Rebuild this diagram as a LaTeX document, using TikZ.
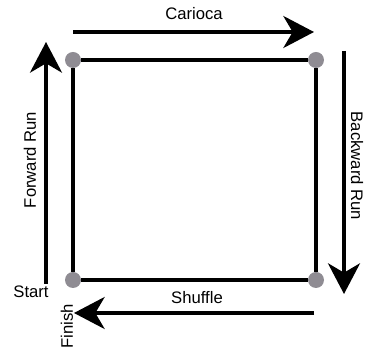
\documentclass[tikz,border=0pt]{standalone}
\usepackage{fontspec}
\setmainfont{Liberation Sans}
\usetikzlibrary{arrows.meta}

\begin{document}
\begin{tikzpicture}[x=0.75pt, y=-0.75pt,
    corner/.style={circle, fill={rgb,255:red,143;green,140;blue,147}, inner sep=0pt, minimum size=12pt},
    edge/.style={line width=2.6pt},
    arrow/.style={-{Stealth[length=23pt, width=24pt, inset=7pt]}, line width=2.6pt},
    lbl/.style={font=\fontsize{12.5}{14}\selectfont, inner sep=0pt}
]
\useasboundingbox (0,0) rectangle (365,352);

% corners of the square
\node[corner] (tl) at (73,60) {};
\node[corner] (tr) at (316,60) {};
\node[corner] (bl) at (73,280) {};
\node[corner] (br) at (316,280) {};

\draw[edge] (tl) -- (tr);
\draw[edge] (tr) -- (br);
\draw[edge] (br) -- (bl);
\draw[edge] (bl) -- (tl);

% arrow ends
\coordinate (ctop0) at (73,32);
\coordinate (ctop1) at (314,32);
\coordinate (cright0) at (344,51);
\coordinate (cright1) at (344,294);
\coordinate (cbot0) at (314,313);
\coordinate (cbot1) at (74,313);
\coordinate (cleft0) at (46,284);
\coordinate (cleft1) at (46,42);

\draw[arrow] (ctop0) -- (ctop1);
\draw[arrow] (cright0) -- (cright1);
\draw[arrow] (cbot0) -- (cbot1);
\draw[arrow] (cleft0) -- (cleft1);

% labels
\node[lbl] (carioca) at (194,14) {Carioca};
\node[lbl, rotate=-90] (backward) at (357,166) {Backward Run};
\node[lbl] (shuffle) at (197,298) {Shuffle};
\node[lbl, rotate=90] (forward) at (30,160) {Forward Run};
\node[lbl] (start) at (31,292) {Start};
\node[lbl, rotate=90] (finish) at (67,326) {Finish};
\end{tikzpicture}
\end{document}
